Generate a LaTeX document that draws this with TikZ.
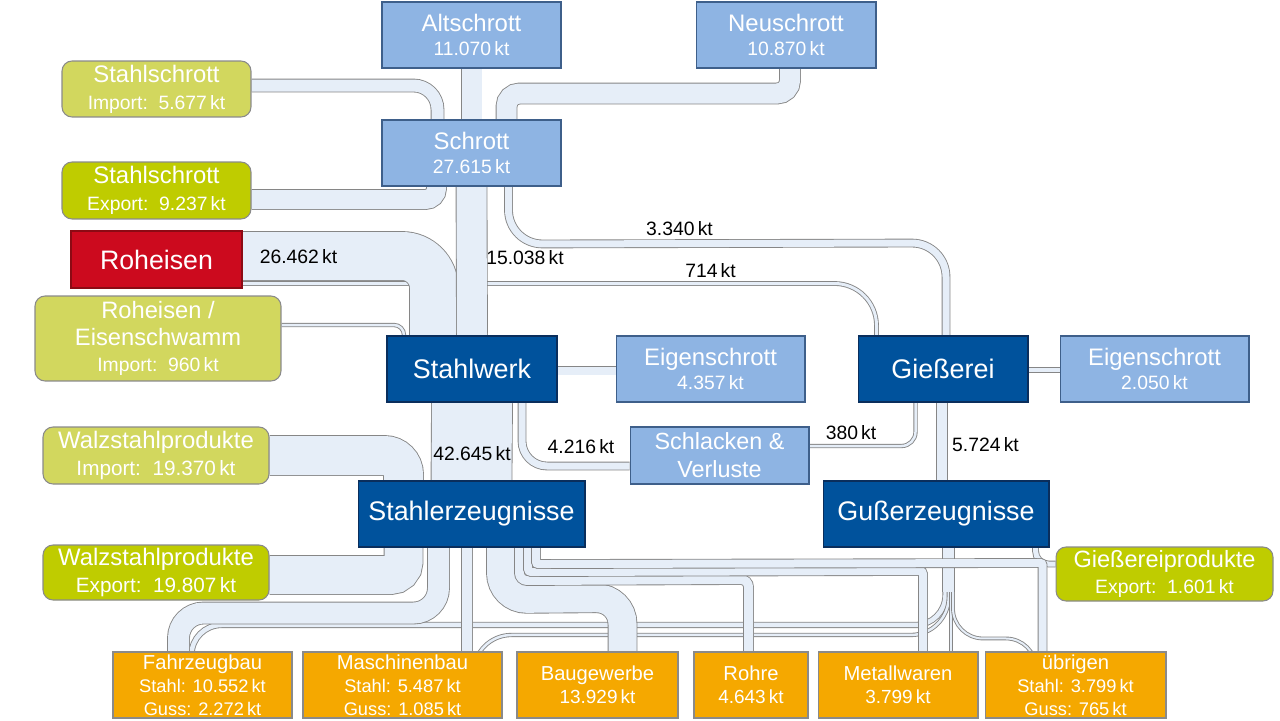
\documentclass[tikz,border=0pt]{standalone}
\usepackage{fontspec}
\setmainfont{Liberation Sans}
\usetikzlibrary{calc,backgrounds}

\definecolor{hellblau}{HTML}{8EB4E3}
\definecolor{hellblaurand}{HTML}{3E5F8A}
\definecolor{dunkelblau}{HTML}{00529C}
\definecolor{dunkelblaurand}{HTML}{0A2E5C}
\definecolor{rot}{HTML}{CC0A1E}
\definecolor{rotrand}{HTML}{8C0A14}
\definecolor{gruenhell}{HTML}{D2D75E}
\definecolor{gruen}{HTML}{BFCC00}
\definecolor{sorange}{HTML}{F5A800}
\definecolor{rand}{HTML}{8A8A8A}
\definecolor{stromfarbe}{HTML}{E6EEF8}
\definecolor{stromrand}{HTML}{868686}

\newcommand{\sz}[2]{\fontsize{#1}{#2}\selectfont}
\newcommand{\val}[2][11]{{\sz{#1}{13}#2}}

\tikzset{
  kasten/.style={rectangle, align=center, text=white, inner sep=0pt, line width=0.6pt},
  hbox/.style={kasten, fill=hellblau, draw=hellblaurand, minimum height=1.32cm, font=\sz{13.6}{13.6}},
  dbox/.style={kasten, fill=dunkelblau, draw=dunkelblaurand, minimum height=1.32cm, font=\sz{15.3}{18}},
  gbox/.style={kasten, rounded corners=0.2cm, draw=rand, font=\sz{13.6}{15.3}},
  obox/.style={kasten, fill=sorange, draw=rand, minimum height=1.32cm, font=\sz{11.5}{13}},
  strom/.style={draw=stromrand, line width=0.5pt, double=stromfarbe, double distance=#1*0.02cm},
  rc/.style={rounded corners=#1*0.02cm},
  wert/.style={font=\sz{11}{13}, text=black, inner sep=0pt}
}

\begin{document}
\begin{tikzpicture}[x=0.02cm, y=-0.02cm]
\useasboundingbox (0,0) rectangle (1280,720);

% Quellen und Schrott
\node[hbox, minimum width=3.58cm] (alt) at (471.5,35) {Altschrott\\\val{11.070\,kt}};
\node[hbox, minimum width=3.6cm] (neu) at (786,35) {Neuschrott\\\val{10.870\,kt}};
\node[hbox, minimum width=3.58cm] (schrott) at (471.5,153) {Schrott\\\val{27.615\,kt}};
\node[gbox, fill=gruenhell, minimum width=3.78cm, minimum height=1.12cm] (ssimp) at (156.5,89) {Stahlschrott\\\val{Import:~~5.677\,kt}};
\node[gbox, fill=gruen, minimum width=3.78cm, minimum height=1.14cm] (ssexp) at (156.5,190.5) {Stahlschrott\\\val{Export:~~9.237\,kt}};
\node[kasten, fill=rot, draw=rotrand, minimum width=3.42cm, minimum height=1.14cm, font=\sz{15.2}{18}] (roh) at (156.5,259.5) {Roheisen};
\node[gbox, fill=gruenhell, minimum width=4.92cm, minimum height=1.7cm, font=\sz{13.5}{15}] (rimp) at (158,338.5) {Roheisen /\\Eisenschwamm\\\val{Import:~~960\,kt}};

% Werke
\node[dbox, minimum width=3.4cm] (stahlwerk) at (472,369) {Stahlwerk};
\node[hbox, minimum width=3.78cm] (eig1) at (710.5,369) {Eigenschrott\\\val{4.357\,kt}};
\node[dbox, minimum width=3.4cm] (giess) at (943,369) {Gießerei};
\node[hbox, minimum width=3.78cm] (eig2) at (1154.5,369) {Eigenschrott\\\val{2.050\,kt}};
\node[hbox, minimum width=3.58cm, minimum height=1.14cm, font=\sz{13.3}{15.9}] (schlack) at (719.5,455.5) {Schlacken \&\\Verluste};

% Erzeugnisse
\node[gbox, fill=gruenhell, minimum width=4.52cm, minimum height=1.14cm] (walzimp) at (156,455.5) {Walzstahlprodukte\\\val[11.8]{Import:~~19.370\,kt}};
\node[gbox, fill=gruen, minimum width=4.52cm, minimum height=1.1cm] (walzexp) at (156,572.5) {Walzstahlprodukte\\\val[11.8]{Export:~~19.807\,kt}};
\node[dbox, minimum width=4.54cm] (stahlerz) at (471.5,514) {Stahlerzeugnisse};
\node[dbox, minimum width=4.52cm] (guss) at (936,514) {Gußerzeugnisse};
\node[gbox, fill=gruen, minimum width=4.34cm, minimum height=1.08cm, font=\sz{13.4}{14.7}] (giessexp) at (1164.5,574) {Gießereiprodukte\\\val{Export:~~1.601\,kt}};

% Verbraucher
\node[obox, minimum width=3.58cm] (fahrz) at (202.5,685) {Fahrzeugbau\\\val[10.4]{Stahl: 10.552\,kt}\\\val[10.4]{Guss: 2.272\,kt}};
\node[obox, minimum width=3.98cm] (masch) at (402.5,685) {Maschinenbau\\\val[10.4]{Stahl: 5.487\,kt}\\\val[10.4]{Guss: 1.085\,kt}};
\node[obox, minimum width=3.22cm] (bau) at (597.5,685) {Baugewerbe\\\val[10.8]{13.929\,kt}};
\node[obox, minimum width=2.28cm] (rohre) at (751,685) {Rohre\\\val[10.8]{4.643\,kt}};
\node[obox, minimum width=3.2cm] (metall) at (898,685) {Metallwaren\\\val[10.8]{3.799\,kt}};
\node[obox, minimum width=3.62cm] (uebrig) at (1075.5,685) {übrigen\\\val[10.4]{Stahl: 3.799\,kt}\\\val[10.4]{Guss: 765\,kt}};

\begin{scope}[on background layer]
\draw[strom=3, rc=42] ($(roh.east)+(0,24)$) -| ($(giess.north)+(-66.5,0)$);
\draw[strom=2.5, rc=10] ($(rimp.east)+(0,-13.5)$) -| ($(stahlwerk.north)+(-68,0)$);
\draw[strom=48, rc=32] ($(roh.east)+(0,-3.5)$) -| ($(stahlwerk.north)+(-38,0)$);
\draw[strom=12, rc=24] ($(ssimp.east)+(0,-3.5)$) -| ($(schrott.north)+(-34,0)$);
\draw[strom=20, rc=13] ($(neu.south)+(4,0)$) -- ($(neu.south)+(4,25)$) -| ($(schrott.north)+(35,0)$);
\draw[strom=20] (alt.south) -- (schrott.north);
\draw[strom=19, rc=11] ($(schrott.south)+(-35,0)$) |- ($(ssexp.east)+(0,9)$);
\draw[strom=30] (schrott.south) -- (stahlwerk.north);
\draw[strom=7] ($(schrott.south)+(37,0)$) [rc=34] -- ($(schrott.south)+(37,57.5)$) -- ($(giess.north)+(3,-92.5)$) [rc=52] -- ($(giess.north)+(3,0)$);

\draw[strom=8] ($(stahlwerk.east)+(0,1.5)$) -- ($(eig1.west)+(0,1.5)$);
\draw[strom=4] ($(giess.east)+(0,1)$) -- ($(eig2.west)+(0,1)$);
\draw[strom=80] (stahlwerk.south) -- (stahlerz.north);
\draw[strom=7, rc=25] ($(stahlwerk.south)+(50,0)$) |- ($(schlack.west)+(0,10.5)$);
\draw[strom=2.5, rc=14] ($(giess.south)+(-27.5,0)$) |- ($(schlack.east)+(0,-9.5)$);
\draw[strom=10] ($(giess.south)+(-1,0)$) -- ($(guss.north)+(6,0)$);

\draw[strom=39, rc=19] (walzimp.east) -| ($(stahlerz.north)+(-68,0)$);
\draw[strom=38, rc=13] ($(stahlerz.south)+(-68,0)$) |- ($(walzexp.east)+(0,2.5)$);

% Guss
\draw[strom=4.5] ($(guss.south)+(9.5,0)$) [rc=30] |- ($(fahrz.north)+(-11,-26.5)$) [rc=12] -- ($(fahrz.north)+(-11,0)$);
\draw[strom=2.5] ($(guss.south)+(12.75,0)$) [rc=38] |- ($(masch.north)+(71,-16.5)$) [rc=4] -- ($(masch.north)+(71,0)$);
\draw[strom=2] ($(guss.south)+(15,0)$) -- ($(metall.north)+(53,0)$);
\draw[strom=2] ($(guss.south)+(17,0)$) [rc=30] |- ($(uebrig.north)+(-39.5,-13)$) [rc=4] -- ($(uebrig.north)+(-39.5,0)$);
\coordinate (gfan) at ($(guss.south)+(12.5,44)$);
\draw[strom=11] ($(guss.south)+(12.5,0)$) -- (gfan);
\draw[strom=5, rc=13] ($(guss.south)+(99.5,0)$) |- ($(giessexp.west)+(0,-10)$);

% Stahl
\draw[strom=21, rc=25] ($(stahlerz.south)+(-33,0)$) -- ($(stahlerz.south)+(-33,65.5)$) -| ($(fahrz.north)+(-24,0)$);
\draw[strom=10] ($(stahlerz.south)+(-4.5,0)$) -- ($(masch.north)+(64.5,0)$);
\draw[strom=28] ($(stahlerz.south)+(29.5,0)$) [rc=26] -- ($(stahlerz.south)+(29.5,51.5)$) -- ($(bau.north)+(25,-53.5)$) [rc=14] -- ($(bau.north)+(25,0)$);
\draw[strom=9] ($(stahlerz.south)+(48,0)$) [rc=7.5] -- ($(stahlerz.south)+(48,33)$) -- ($(rohre.north)+(-2.5,-72)$) [rc=21] -- ($(rohre.north)+(-2.5,0)$);
\draw[strom=8] ($(stahlerz.south)+(56.5,0)$) [rc=3] -- ($(stahlerz.south)+(56.5,24.5)$) -- ($(metall.north)+(25,-80.5)$) [rc=24] -- ($(metall.north)+(25,0)$);
\draw[strom=8] ($(stahlerz.south)+(64.5,0)$) [rc=2] -- ($(stahlerz.south)+(64.5,16.5)$) -- ($(uebrig.north)+(-33,-88.5)$) [rc=30] -- ($(uebrig.north)+(-33,0)$);
\end{scope}

% Mengen
\node[wert] (w1) at (298.5,257) {26.462\,kt};
\node[wert] (w2) at (525,258) {15.038\,kt};
\node[wert] (w3) at (679.5,229) {3.340\,kt};
\node[wert] (w4) at (710.5,271) {714\,kt};
\node[wert] (w5) at (472,454) {42.645\,kt};
\node[wert] (w6) at (581,447) {4.216\,kt};
\node[wert] (w7) at (851,433) {380\,kt};
\node[wert] (w8) at (985.5,445) {5.724\,kt};
\end{tikzpicture}
\end{document}
